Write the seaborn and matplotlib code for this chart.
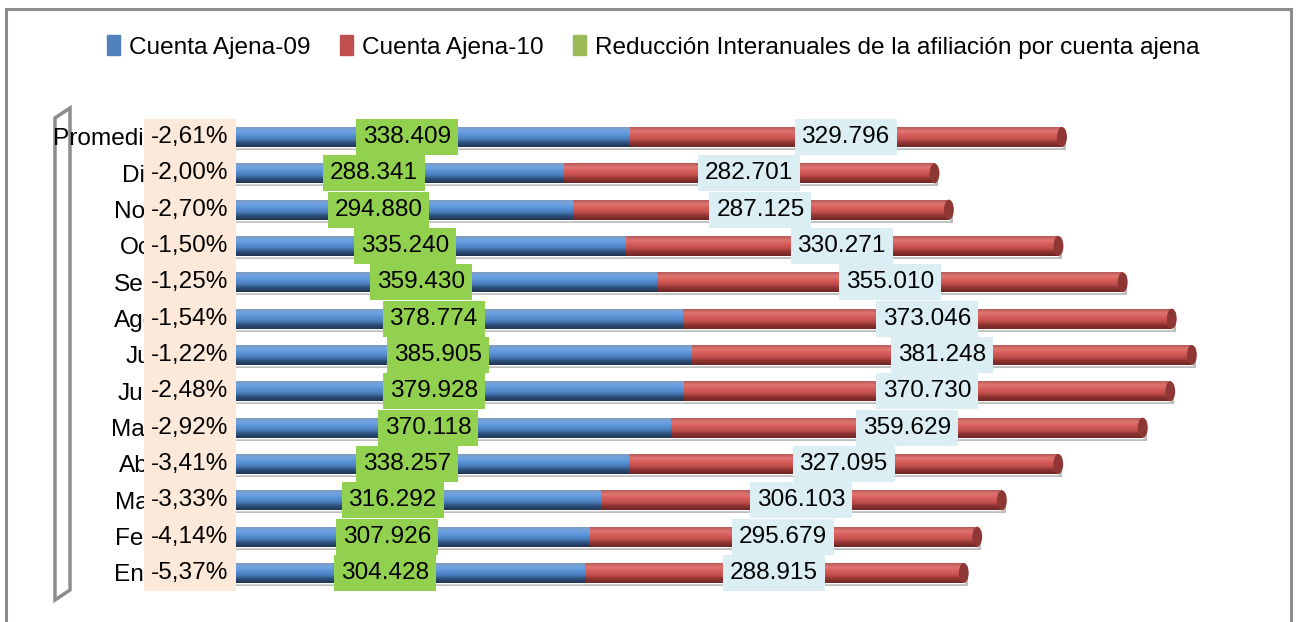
import numpy as np
import pandas as pd
import matplotlib
matplotlib.use("Agg")
import matplotlib.pyplot as plt
import seaborn as sns
from matplotlib.colors import LinearSegmentedColormap
from matplotlib.patches import Rectangle, Polygon, Ellipse, Patch

# ---------------- data ----------------
categories = ["Promedio", "Dic", "Nov", "Oct", "Sep", "Ago", "Jul", "Jun",
              "May", "Abr", "Mar", "Feb", "Ene"]
ajena_09 = [338409, 288341, 294880, 335240, 359430, 378774, 385905, 379928,
            370118, 338257, 316292, 307926, 304428]
ajena_10 = [329796, 282701, 287125, 330271, 355010, 373046, 381248, 370730,
            359629, 327095, 306103, 295679, 288915]
reduccion = [-2.61, -2.00, -2.70, -1.50, -1.25, -1.54, -1.22, -2.48,
             -2.92, -3.41, -3.33, -4.14, -5.37]
series_names = ["Cuenta Ajena-09", "Cuenta Ajena-10",
                "Reducción Interanuales de la afiliación por cuenta ajena"]

sns.set_theme(style="white")
plt.rcParams["font.family"] = ["Liberation Sans Narrow", "Liberation Sans", "DejaVu Sans"]
plt.rcParams["text.color"] = "black"
plt.rcParams["ytick.color"] = "black"

BLUE, RED, GREEN = "#4F81BD", "#C0504D", "#9BBB59"
FS = 17.6

df = pd.DataFrame({"cat": categories, "a09": ajena_09, "a10": ajena_10,
                   "pct": reduccion})
df["total"] = df["a09"] + df["a10"]

W, H = 1298, 622
fig = plt.figure(figsize=(W / 100, H / 100), dpi=100)
ax = fig.add_axes([185 / W, 1 - 594.8 / H, 1050 / W, 479.6 / H])

sns.barplot(data=df, x="total", y="cat", color=RED, width=0.55, orient="h",
            ax=ax, saturation=1, order=categories)
sns.barplot(data=df, x="a09", y="cat", color=BLUE, width=0.55, orient="h",
            ax=ax, saturation=1, order=categories)

ax.set_xlim(0, 800000)
ax.set_ylim(12.6, -0.6)

# cylinder-like shading clipped to each bar
cm_red = LinearSegmentedColormap.from_list(
    "r", ["#b65a58", "#e07572", "#d65d5a", "#c24f4c", "#8e3330", "#6e2624"])
cm_blue = LinearSegmentedColormap.from_list(
    "b", ["#7f9cc4", "#6da3e3", "#5b93d6", "#4a7dbd", "#2c4e78", "#1f3556"])
grad = np.linspace(0, 1, 64).reshape(-1, 1)
n = len(categories)
for i, p in enumerate(list(ax.patches)):
    x0, y0, w, h = p.get_x(), p.get_y(), p.get_width(), p.get_height()
    cm = cm_red if i < n else cm_blue
    sh = Rectangle((x0 + 3000, y0 + 0.08), w, h, color="#bdbdbd", zorder=0.5,
                   lw=0)
    ax.add_patch(sh)
    im = ax.imshow(grad, cmap=cm, extent=[x0, x0 + w, y0 + h, y0],
                   origin="upper", aspect="auto", zorder=2,
                   interpolation="bilinear")
    im.set_clip_path(p)
    if i < n:
        ax.add_patch(Ellipse((x0 + w, y0 + h / 2), 7500, h, color="#8f3734",
                             zorder=2.1, lw=0))
ax.set_xlim(0, 800000)
ax.set_ylim(12.6, -0.6)

# data labels
for i, row in df.iterrows():
    ax.text(row["a09"] / 2, i, f"{row['a09']:,}".replace(",", "."),
            ha="center", va="center", fontsize=FS, zorder=5, color="black",
            bbox=dict(boxstyle="square,pad=0.28", fc="#92D050", ec="none"))
    ax.text(row["a09"] + row["a10"] / 2, i,
            f"{row['a10']:,}".replace(",", "."),
            ha="center", va="center", fontsize=FS, zorder=5, color="black",
            bbox=dict(boxstyle="square,pad=0.28", fc="#DAEEF3", ec="none"))
    ax.text(3800 + row["pct"], i, f"{row['pct']:.2f}%".replace(".", ","),
            ha="center", va="center", fontsize=FS, zorder=5, clip_on=False,
            color="black",
            bbox=dict(boxstyle="square,pad=0.3", fc="#FDE9D9", ec="none"))

ax.set_xlabel("")
ax.set_ylabel("")
ax.set_xticks([])
ax.tick_params(axis="y", length=0, pad=20, labelsize=FS, labelcolor="black")
for s in ax.spines.values():
    s.set_visible(False)
ax.patch.set_alpha(0)

# 3D side wall outline
wall_px = [(55, 118), (70, 108), (70, 590), (55, 600)]
wall = Polygon([(x / W, 1 - y / H) for x, y in wall_px], closed=True,
               transform=fig.transFigure, fc="white", ec="#8c8c8c", lw=2.5,
               zorder=-2)
fig.patches.append(wall)

# chart border
fig.patches.append(Rectangle((6 / W, -0.02), 1285 / W, 1 - 9 / H + 0.02,
                             transform=fig.transFigure, fill=False,
                             ec="#8c8c8c", lw=2.2, zorder=-2))

handles = [Patch(color=BLUE), Patch(color=RED), Patch(color=GREEN)]
fig.legend(handles, series_names, loc="center", bbox_to_anchor=(0.503, 1 - 47 / H),
           ncol=3, frameon=False, fontsize=FS, handlelength=0.55,
           handleheight=0.85, handletextpad=0.35, columnspacing=1.2)

fig.savefig("out.png", dpi=100)
